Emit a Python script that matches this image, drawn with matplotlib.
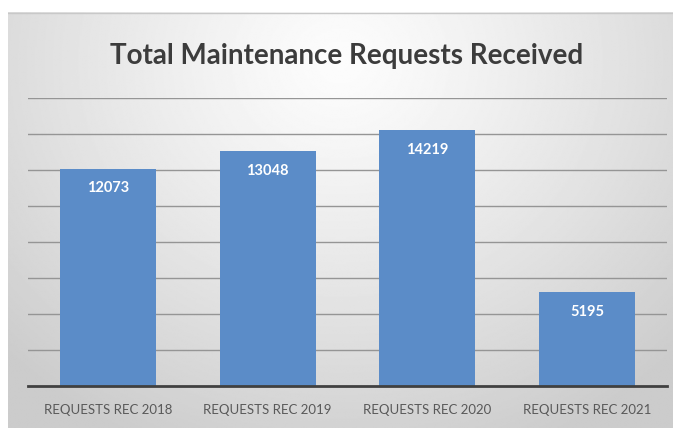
import numpy as np
import matplotlib.pyplot as plt

# Chart data
categories = ['REQUESTS REC 2018', 'REQUESTS REC 2019', 'REQUESTS REC 2020', 'REQUESTS REC 2021']
requests = [12073, 13048, 14219, 5195]

plt.rcParams['font.family'] = ['Lato', 'DejaVu Sans']

W, H = 673, 428
fig = plt.figure(figsize=(W / 100, H / 100), dpi=100)

# Gradient background panel (white near top centre, grey toward edges)
bg = fig.add_axes([8 / W, 0, 1 - 8 / W, 1 - 12 / H], zorder=0)
yy, xx = np.mgrid[0:1:300j, 0:1:500j]
r = np.sqrt(((xx - 0.5) / 0.7) ** 2 + ((yy - 0.12) / 1.0) ** 2)
shade = 0.99 - 0.19 * np.clip(r, 0, 1) ** 1.2
bg.imshow(shade, cmap='gray', vmin=0, vmax=1, aspect='auto',
          extent=[0, 1, 1, 0], interpolation='bilinear')
bg.axis('off')
bg.plot([0, 1], [0.002, 0.002], color='#c8c8c8', lw=1)

# Main axes
ax = fig.add_axes([28 / W, 1 - 386 / H, 639 / W, 288 / H], zorder=1)
ax.patch.set_alpha(0)

x = np.arange(len(categories))
ax.bar(x, requests, width=0.6, color='#5b8cc8', zorder=2)

ax.set_xlim(-0.5, len(categories) - 0.5)
ax.set_ylim(0, 16000)
ax.set_yticks(range(2000, 16001, 2000))
ax.yaxis.grid(True, color='#959595', lw=1)
ax.set_axisbelow(True)
ax.tick_params(axis='y', left=False, labelleft=False)
ax.tick_params(axis='x', length=0, pad=13)
ax.set_xticks(x, categories, fontsize=9.5, color='#595959')

for s in ['top', 'right', 'left']:
    ax.spines[s].set_visible(False)
ax.spines['bottom'].set_color('#404040')
ax.spines['bottom'].set_linewidth(2)

# Value labels inside bars
for xi, v in zip(x, requests):
    ax.annotate(str(v), (xi, v), xytext=(0, -14), textcoords='offset points',
                ha='center', va='center', color='white', fontsize=10.5,
                fontweight='bold', zorder=3)

fig.text(347 / W, 1 - 56 / H, 'Total Maintenance Requests Received',
         ha='center', va='center', fontsize=20, fontweight='bold', color='#3c3c3c')

fig.savefig('out.png', dpi=100)
